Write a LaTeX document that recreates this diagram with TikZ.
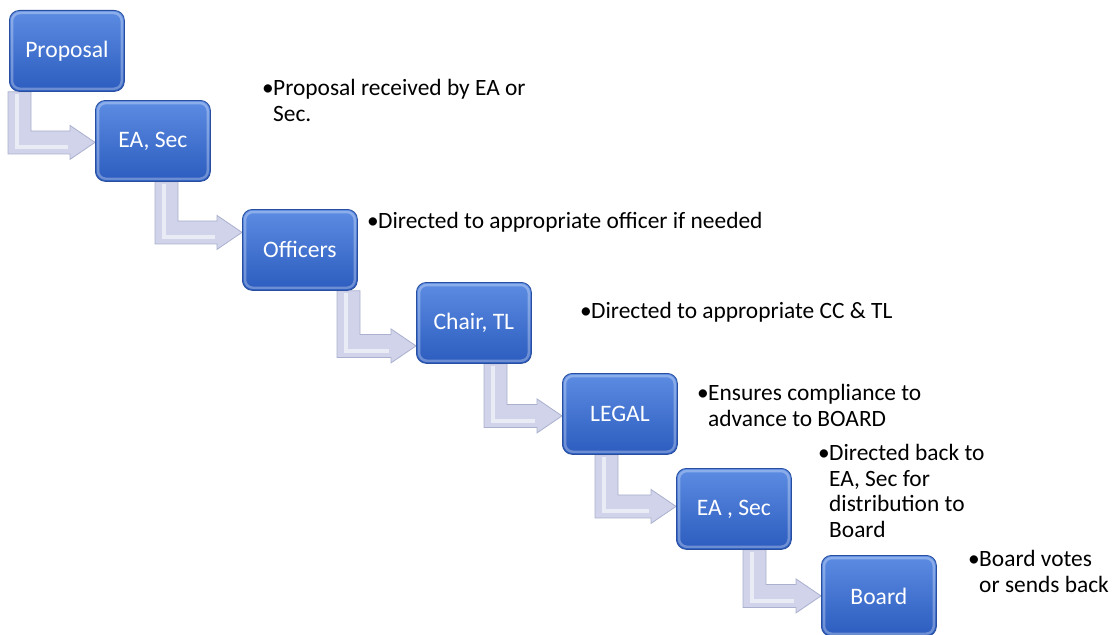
\documentclass[tikz,border=0pt]{standalone}
\usepackage{fontspec}
\setmainfont{Carlito}
\usetikzlibrary{calc}
\pgfdeclarelayer{bg}
\pgfsetlayers{bg,main}
\definecolor{boxtop}{RGB}{92,140,226}
\definecolor{boxbot}{RGB}{44,92,190}
\definecolor{boxline}{RGB}{40,78,160}
\definecolor{arrfill}{RGB}{208,211,233}
\definecolor{arrline}{RGB}{170,176,206}
\tikzset{
  stepbox/.style={rectangle, rounded corners=10pt, minimum width=115pt, minimum height=81pt,
    anchor=north west, top color=boxtop, bottom color=boxbot, draw=boxline, line width=0.8pt,
    text=white, inner sep=0pt, font=\fontsize{23.6}{25}\selectfont},
  glow/.style={draw=white, opacity=0.3, line width=2.5pt, rounded corners=8pt},
  note/.style={anchor=base west, align=left, inner sep=0pt, font=\fontsize{23.4}{25.5}\selectfont},
  conn/.style={fill=arrfill, draw=arrline, line width=0.8pt, line join=miter},
  connhi/.style={draw=white, opacity=0.55, line width=4pt}
}
\newcommand\bul{\makebox[11pt][l]{\textbullet}}
\newcommand\ind{\hspace*{11pt}}
% #1 from node, #2 to node, #3 shaft offset from #1.south west, #4 tip offset from #2.west
\newcommand\stepconn[4]{%
  \path[conn] let \p1=($(#1.south west)+(#3,0)$), \p2=($(#2.west)+(0,#4)$) in
  (\x1,\y1) -- (\x1+23pt,\y1) -- (\x1+23pt,\y2+11.5pt) -- (\x2-25pt,\y2+11.5pt)
  -- (\x2-25pt,\y2+17pt) -- (\x2,\y2) -- (\x2-25pt,\y2-17pt) -- (\x2-25pt,\y2-11.5pt)
  -- (\x1,\y2-11.5pt) -- cycle;
  \path[connhi] let \p1=($(#1.south west)+(#3,0)$), \p2=($(#2.west)+(0,#4)$) in
  (\x1+9pt,\y1-2pt) -- (\x1+9pt,\y2-5pt) -- (\x2-27pt,\y2-5pt);}
\newcommand\boxglow[1]{%
  \path[glow] ($(#1.north west)+(3,3)$) rectangle ($(#1.south east)+(-3,-3)$);}
\begin{document}
\begin{tikzpicture}[x=1pt,y=-1pt]
\useasboundingbox (0,0) rectangle (1115,634);
\begin{pgfonlayer}{bg}
  \fill[white] (0,0) rectangle (1115,634);
\end{pgfonlayer}
\node[stepbox] (b1) at (9,10)   {Proposal};
\node[stepbox] (b2) at (95,100) {EA, Sec};
\node[stepbox] (b3) at (242,209) {Officers};
\node[stepbox] (b4) at (416,282) {Chair, TL};
\node[stepbox] (b5) at (562,373) {LEGAL};
\node[stepbox] (b6) at (676,468) {EA , Sec};
\node[stepbox] (b7) at (821,555) {Board};
\boxglow{b1}\boxglow{b2}\boxglow{b3}\boxglow{b4}\boxglow{b5}\boxglow{b6}\boxglow{b7}
\begin{pgfonlayer}{bg}
  \stepconn{b1}{b2}{-1}{1.5}
  \stepconn{b2}{b3}{60}{-17.5}
  \stepconn{b3}{b4}{95}{23}
  \stepconn{b4}{b5}{68}{2}
  \stepconn{b5}{b6}{33}{-2.5}
  \stepconn{b6}{b7}{67}{0}
\end{pgfonlayer}
\node[note] (t1) at (262,121) {\bul Proposal received by EA or\\\ind Sec.};
\node[note] (t2) at (367,228) {\bul Directed to appropriate officer if needed};
\node[note] (t3) at (580,318) {\bul Directed to appropriate CC \& TL};
\node[note] (t4) at (697,426) {\bul Ensures compliance to\\\ind advance to BOARD};
\node[note] (t5) at (818,537) {\bul Directed back to\\\ind EA, Sec for\\\ind distribution to\\\ind Board};
\node[note] (t6) at (968,592) {\bul Board votes\\\ind or sends back};
\end{tikzpicture}
\end{document}
